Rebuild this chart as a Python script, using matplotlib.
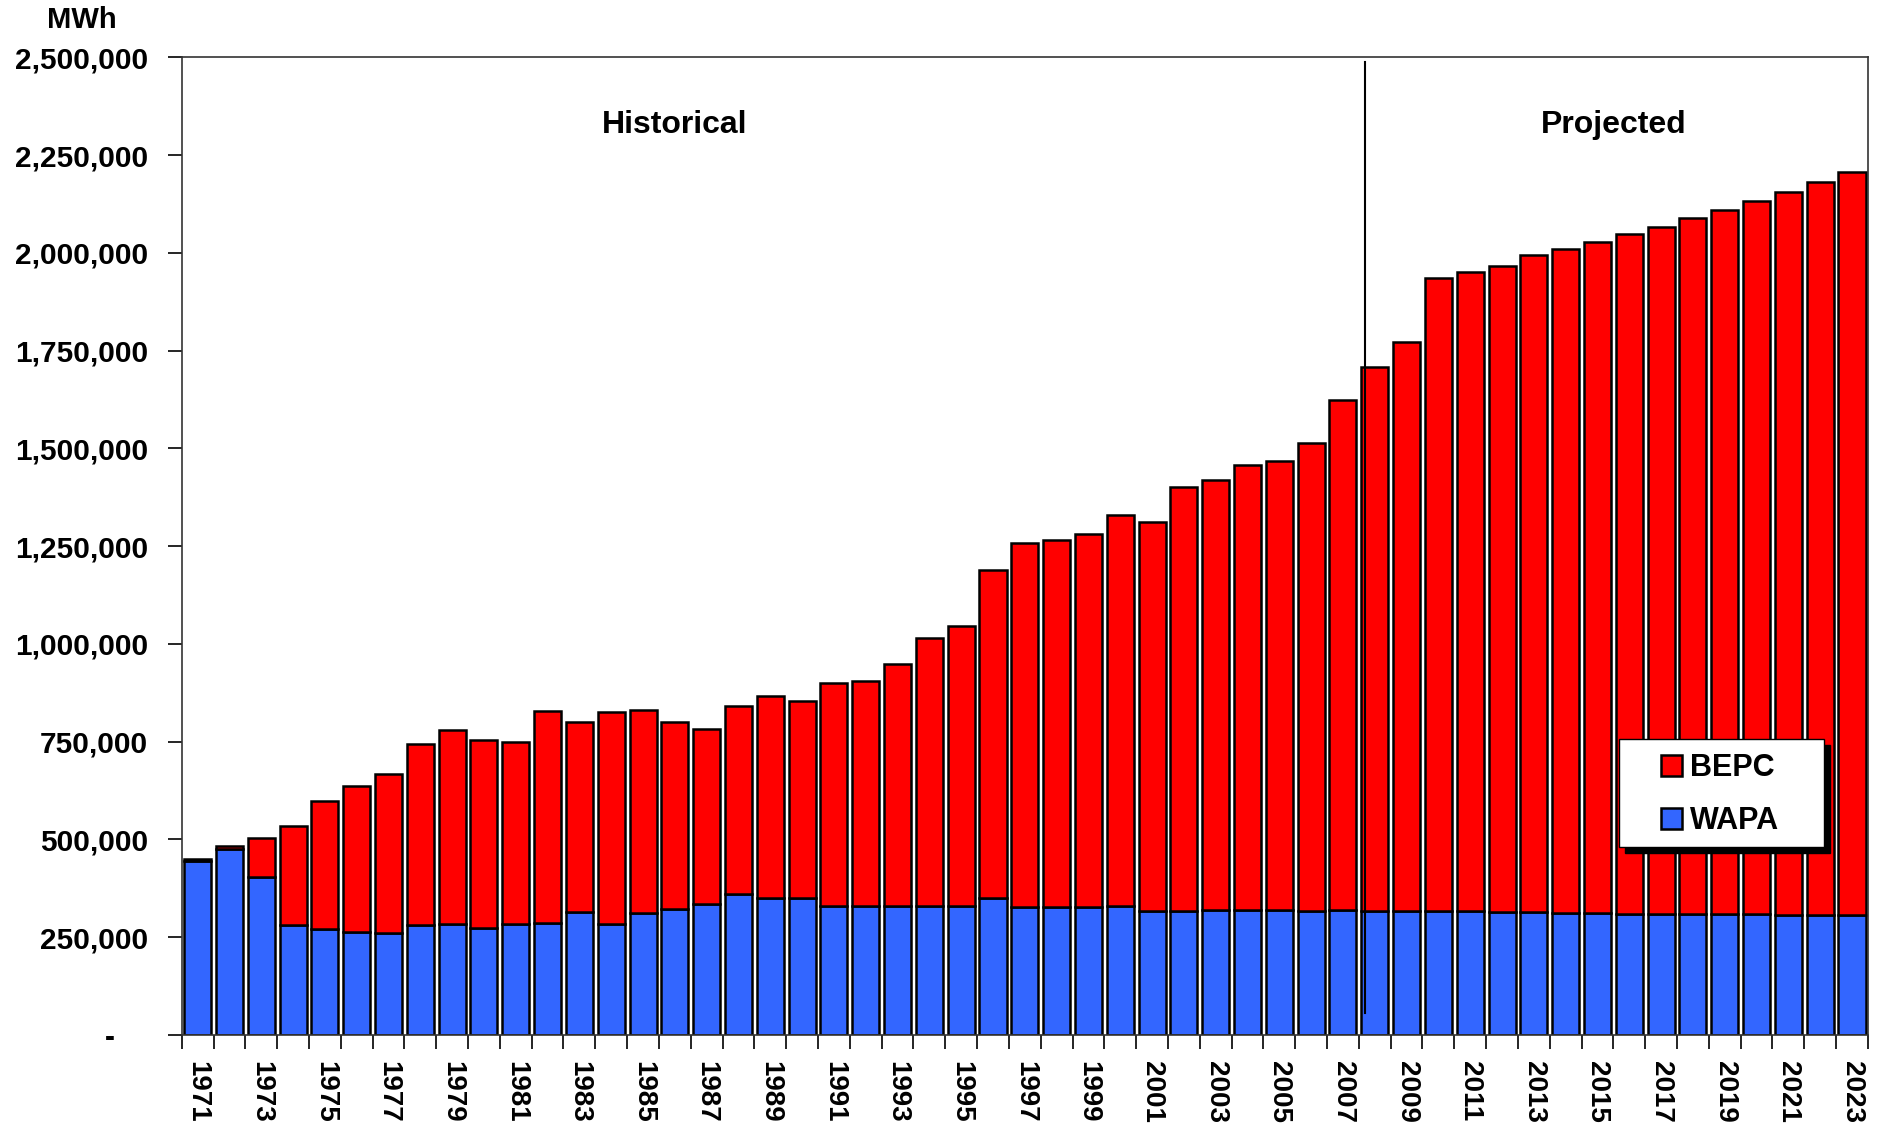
import matplotlib.pyplot as plt
import numpy as np
from matplotlib.patches import Rectangle

plt.rcParams["font.family"] = ["Liberation Sans", "DejaVu Sans"]
plt.rcParams["font.weight"] = "bold"

years = list(range(1971, 2024))

wapa = [445000, 476000, 405000, 281000, 270000, 264000, 260000, 280000, 283000, 273000,
        283000, 286000, 314000, 283000, 313000, 322000, 336000, 360000, 350000, 350000,
        331000, 331000, 330000, 330000, 330000, 349000, 328000, 327000, 328000, 331000,
        318000, 318000, 319000, 320000, 319000, 318000, 319000, 318000, 317000, 317000,
        316000, 315000, 314000, 312000, 312000, 310000, 310000, 309000, 309000, 309000,
        307000, 307000, 307000]

total = [450000, 484000, 503000, 535000, 599000, 637000, 667000, 743000, 780000, 754000,
         748000, 829000, 800000, 827000, 831000, 800000, 782000, 841000, 868000, 854000,
         901000, 905000, 949000, 1015000, 1045000, 1188000, 1258000, 1267000, 1281000, 1329000,
         1313000, 1402000, 1418000, 1457000, 1467000, 1513000, 1623000, 1709000, 1773000, 1936000,
         1951000, 1966000, 1994000, 2009000, 2028000, 2049000, 2067000, 2089000, 2110000, 2132000,
         2156000, 2181000, 2208000]

bepc = [t - w for t, w in zip(total, wapa)]

x = np.arange(len(years))

fig = plt.figure(figsize=(18.79, 11.29), dpi=100)
ax = fig.add_axes([0.0967, 0.0833, 0.8974, 0.8659])

ax.bar(x, wapa, width=0.85, color="#3366FF", edgecolor="black", linewidth=1.8, label="WAPA")
ax.bar(x, bepc, width=0.85, bottom=wapa, color="#FF0000", edgecolor="black", linewidth=1.8,
       label="BEPC")

ax.set_xlim(-0.5, len(years) - 0.5)
ax.set_ylim(0, 2500000)

yt = np.arange(0, 2500001, 250000)
ax.set_yticks(yt)
ax.set_yticklabels(["-    "] + [f"{v:,}" for v in yt[1:]], fontsize=21.5, fontweight="bold")
ax.tick_params(axis="y", direction="out", length=10, width=1.2, pad=14)

ax.set_xticks(x[::2])
ax.set_xticklabels([str(y) for y in years[::2]], rotation=270, fontsize=20, fontweight="bold")
ax.set_xticks(np.arange(-0.5, len(years)), minor=True)
ax.tick_params(axis="x", which="major", length=0, pad=19)
ax.tick_params(axis="x", which="minor", direction="out", length=10, width=1.2)

for s in ax.spines.values():
    s.set_linewidth(1.2)
    s.set_color("#333333")

# divider between historical and projected
ax.plot([36.7, 36.7], [56000, 2488000], color="black", linewidth=1.5)
ax.text(15.0, 2327000, "Historical", ha="center", va="center", fontsize=23, fontweight="bold")
ax.text(44.5, 2327000, "Projected", ha="center", va="center", fontsize=23, fontweight="bold")

fig.text(0.0434, 0.982, "MWh", ha="center", va="center", fontsize=21, fontweight="bold")

# legend box with solid shadow
bx, by, bw, bh = 0.8523, 0.1923, 0.1216, 0.1105
ax.add_patch(Rectangle((bx + 0.0036, by - 0.0061), bw, bh, transform=ax.transAxes,
                       facecolor="black", edgecolor="black", zorder=4))
ax.add_patch(Rectangle((bx, by), bw, bh, transform=ax.transAxes,
                       facecolor="white", edgecolor="black", linewidth=1.0, zorder=4.5))

h, l = ax.get_legend_handles_labels()
leg = ax.legend(h[::-1], l[::-1], loc="center left", bbox_to_anchor=(0.8772, 0.246),
                fontsize=22, frameon=False,
                handlelength=0.69, handleheight=0.69, handletextpad=0.25,
                labelspacing=0.75, borderpad=0, borderaxespad=0)
leg.set_zorder(6)
for t in leg.get_texts():
    t.set_fontweight("bold")

fig.savefig("out.png", dpi=100)
